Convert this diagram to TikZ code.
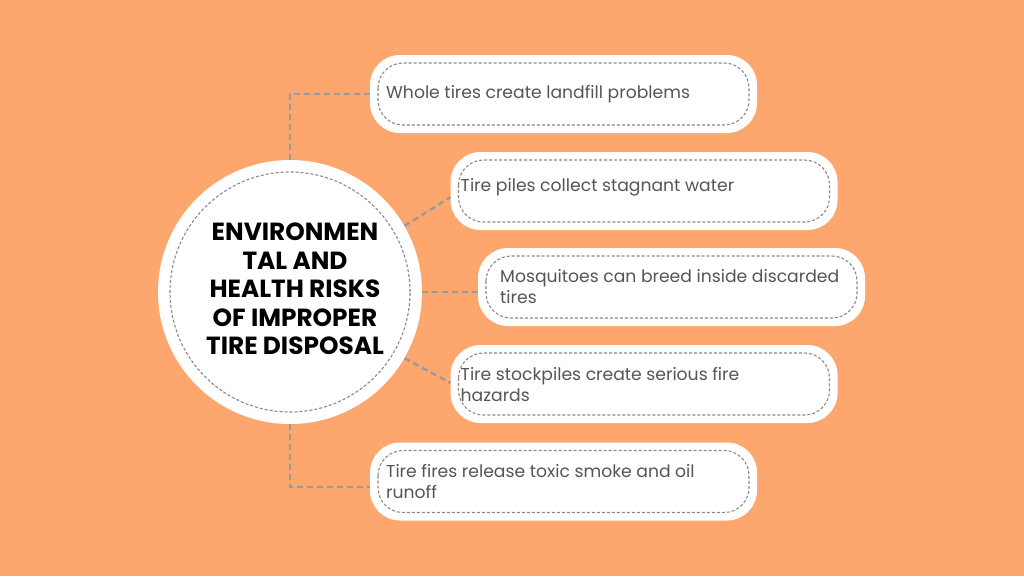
\documentclass[tikz,border=0pt]{standalone}
\usepackage{fontspec}
\setmainfont{Poppins}
\definecolor{bg}{HTML}{FDA66D}
\definecolor{conn}{HTML}{9A9A9A}
\definecolor{inner}{HTML}{8A8A8A}
\definecolor{txt}{HTML}{555555}
\begin{document}
\begin{tikzpicture}[x=1pt,y=-1pt,
  box/.style={fill=white, rounded corners=30pt, minimum width=387pt, minimum height=78pt, inner sep=0pt, outer sep=0pt},
  boxtext/.style={anchor=west, align=left, text=txt, font=\fontsize{17.2}{21}\selectfont, inner sep=0pt},
  conn/.style={draw=conn, line width=2.4pt, dash pattern=on 6pt off 4pt},
  innerdash/.style={draw=inner, line width=1.1pt, dash pattern=on 3pt off 2pt, rounded corners=25pt}]
\fill[bg] (0,0) rectangle (1024,576);
\useasboundingbox (0,0) rectangle (1024,576);
% boxes
\node[box] (b1) at (563.5,94) {};
\node[box] (b2) at (644,191) {};
\node[box] (b3) at (671.5,287) {};
\node[box] (b4) at (644,384) {};
\node[box] (b5) at (563.5,481.5) {};
\foreach \b in {b1,b2,b3,b4,b5}{
  \draw[innerdash] ([xshift=8pt,yshift=-8pt]\b.north west) rectangle ([xshift=-8pt,yshift=8pt]\b.south east);
}
\node[boxtext] (t1) at ([xshift=16pt]b1.west) {Whole tires create landfill problems};
\node[boxtext] (t2) at ([xshift=10pt,yshift=4pt]b2.west) {Tire piles collect stagnant water};
\node[boxtext] (t3) at ([xshift=22pt]b3.west) {Mosquitoes can breed inside discarded\\tires};
\node[boxtext] (t4) at ([xshift=10pt]b4.west) {Tire stockpiles create serious fire\\hazards};
\node[boxtext] (t5) at ([xshift=16pt]b5.west) {Tire fires release toxic smoke and oil\\runoff};
% circle
\node[circle, fill=white, minimum size=264pt, inner sep=0pt] (c) at (290,292) {};
\draw[innerdash, rounded corners=0pt] (c.center) circle (120pt);
\node[align=center, font=\fontsize{24.8}{28.5}\selectfont\bfseries, text=black, inner sep=0pt] (title) at (295,289) {ENVIRONMEN\\TAL AND\\HEALTH RISKS\\OF IMPROPER\\TIRE DISPOSAL};
% connectors
\coordinate (k1) at (290,94);
\coordinate (k5) at (290,487);
\draw[conn] (c.north) -- (k1) -- (b1.west);
\draw[conn] (c.south) -- (k5) -- (b5.west |- k5);
\draw[conn] (c.30) -- (b2.west |- 0,197);
\draw[conn] (c.east) -- (b3.west |- c.east);
\draw[conn] (c.-30) -- (b4.west |- 0,383);
\end{tikzpicture}
\end{document}
